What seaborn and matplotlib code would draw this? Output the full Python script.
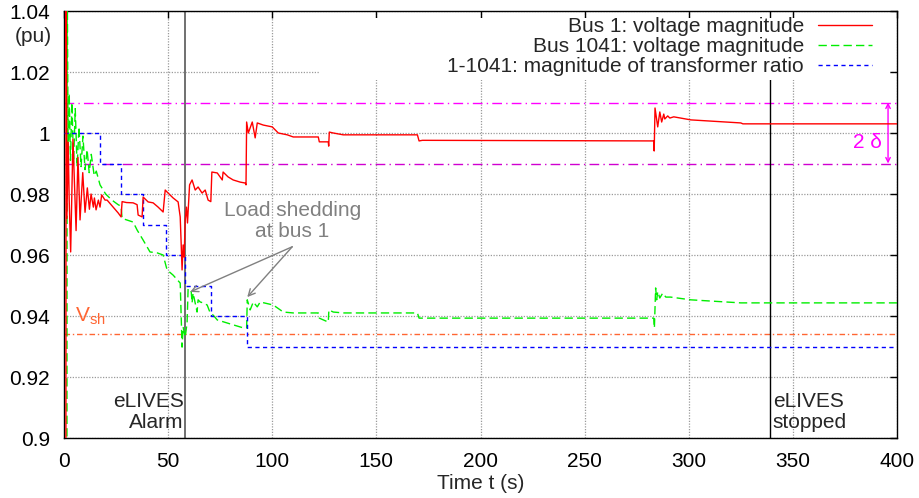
import matplotlib
matplotlib.use("Agg")
import matplotlib.pyplot as plt
import pandas as pd
import seaborn as sns
from matplotlib.patches import Rectangle
from matplotlib.ticker import FuncFormatter, MultipleLocator

# ---- simulation traces (time in s, magnitude in pu) ----
bus1_points = [
    (0.0, 0.86), (0.9, 0.86), (1.0, 1.06), (1.4, 0.972), (2.0, 0.997), (2.5, 0.978),
    (3.2, 0.961), (4.3, 0.998), (5.8, 0.968), (6.7, 0.992), (7.7, 0.9715),
    (9.0, 0.987), (10.1, 0.974), (11.2, 0.982), (12.2, 0.975), (13.0, 0.980),
    (14.1, 0.9757), (14.6, 0.9787), (15.4, 0.9748), (16.5, 0.978), (17.3, 0.9757),
    (18.1, 0.9797), (19.7, 0.978), (20.7, 0.978), (23.6, 0.9757), (26.0, 0.9738),
    (27.4, 0.9725), (27.9, 0.9775), (30.0, 0.9772), (33.2, 0.9771), (35.1, 0.9765),
    (35.6, 0.9731), (37.5, 0.9725), (38.0, 0.979), (40.4, 0.9774), (42.8, 0.9771),
    (45.2, 0.9757), (47.6, 0.9741), (48.6, 0.9813), (50.0, 0.9803), (52.4, 0.9787),
    (54.8, 0.9774), (55.8, 0.9725), (56.25, 0.964), (56.7, 0.9551), (57.2, 0.9633),
    (57.7, 0.9593), (58.2, 0.9715), (58.8, 0.9757), (59.3, 0.9705), (60.3, 0.983),
    (61.5, 0.9846), (63.0, 0.9813), (64.4, 0.9823), (66.3, 0.9803), (67.8, 0.9813),
    (69.2, 0.978), (70.5, 0.9775), (71.0, 0.9872), (73.6, 0.9869), (76.0, 0.9846),
    (76.4, 0.9872), (78.8, 0.9856), (81.25, 0.9846), (84.6, 0.9839), (87.0, 0.9836),
    (87.4, 0.983), (87.7, 1.0036), (88.5, 1.0), (90.4, 1.0036), (91.8, 0.9984),
    (92.8, 1.0033), (95.7, 1.0026), (100.0, 1.002), (102.9, 1.0), (107.2, 0.9994),
    (110.1, 0.9987), (122.1, 0.9987), (122.6, 0.9971), (126.9, 0.9971), (127.1, 0.9957),
    (127.4, 1.0003), (129.3, 1.0), (134.1, 0.9994), (169.7, 0.9994), (170.5, 0.9974),
    (172.1, 0.9976), (283.2, 0.9974), (283.4, 0.9941), (283.8, 1.0082), (285.1, 1.002),
    (286.1, 1.0069), (287.0, 1.0036), (288.0, 1.0062), (288.5, 1.0046), (289.9, 1.0056),
    (290.9, 1.0049), (292.8, 1.0053), (301.0, 1.0043), (325.0, 1.0033), (326.0, 1.003),
    (400.0, 1.003),
]

bus1041_points = [
    (0.0, 0.86), (1.4, 0.86), (1.5, 1.06), (2.0, 0.990), (2.5, 1.013), (3.1, 0.991),
    (3.8, 1.010), (4.6, 0.990), (5.4, 1.008), (6.3, 0.989), (7.2, 1.002),
    (8.2, 0.989), (9.1, 0.999), (10.1, 0.988), (11.1, 0.9945), (12.1, 0.987),
    (13.1, 0.993), (14.5, 0.986), (15.5, 0.9875), (17.3, 0.983), (20.0, 0.980),
    (23.0, 0.978), (26.0, 0.9765), (27.4, 0.976), (27.9, 0.972), (33.2, 0.9708),
    (35.1, 0.9682), (38.0, 0.9649), (41.3, 0.961), (44.7, 0.9607), (47.6, 0.960),
    (49.5, 0.9551), (52.4, 0.9534), (55.8, 0.9508), (56.7, 0.9298), (57.2, 0.9364),
    (58.2, 0.9331), (59.1, 0.9377), (59.6, 0.949), (61.1, 0.9479), (61.5, 0.9443),
    (62.0, 0.9475), (63.9, 0.9413), (64.4, 0.9453), (65.4, 0.9446), (66.8, 0.9443),
    (68.75, 0.9436), (70.2, 0.941), (71.6, 0.9403), (73.6, 0.9387), (78.4, 0.9377),
    (81.25, 0.9371), (86.1, 0.9361), (87.7, 0.9361), (88.0, 0.9453), (89.4, 0.942),
    (90.9, 0.9446), (92.8, 0.943), (94.2, 0.9446), (100.5, 0.9436), (105.3, 0.9413),
    (110.1, 0.941), (122.1, 0.941), (122.6, 0.9393), (126.9, 0.938), (127.2, 0.942),
    (129.3, 0.9413), (134.1, 0.941), (169.7, 0.941), (170.5, 0.9393), (283.2, 0.9393),
    (283.5, 0.9361), (284.1, 0.9492), (284.6, 0.9453), (285.1, 0.948), (286.1, 0.9459),
    (287.5, 0.9475), (289.0, 0.9462), (291.3, 0.9462), (301.0, 0.9453), (325.0, 0.9443),
    (400.0, 0.9443),
]

# LTC tap steps of transformer 1-1041
ratio_t = [0.0, 17.3, 27.6, 38.0, 49.0, 58.2, 70.7, 88.0, 400.0]
ratio_v = [1.00, 0.99, 0.98, 0.97, 0.96, 0.95, 0.94, 0.93, 0.93]

# deadband, shedding threshold and event times
band_upper = 1.01
band_lower = 0.99
v_shed = 0.934
t_alarm = 58.2
t_stop = 339.0

series_labels = [
    "Bus 1: voltage magnitude",
    "Bus 1041: voltage magnitude",
    "1-1041: magnitude of transformer ratio",
]

bus1_t, bus1_v = map(list, zip(*bus1_points))
bus1041_t, bus1041_v = map(list, zip(*bus1041_points))

df_bus1 = pd.DataFrame({"t": bus1_t, "v": bus1_v})
df_bus1041 = pd.DataFrame({"t": bus1041_t, "v": bus1041_v})
df_ratio = pd.DataFrame({"t": ratio_t, "v": ratio_v})

sns.set_style("white")
plt.rcParams["font.family"] = ["Liberation Sans", "DejaVu Sans"]
plt.rcParams["mathtext.fontset"] = "custom"
plt.rcParams["mathtext.rm"] = "Liberation Sans"
FS = 15

fig = plt.figure(figsize=(9.2, 4.98), dpi=100)
ax = fig.add_axes([64 / 920, 60 / 498, 833 / 920, 427 / 498])

# reference levels
ax.axhline(band_upper, color="#ff00ff", lw=1.0, ls=(0, (7, 3, 1, 3)), zorder=2)
ax.axhline(band_lower, color="#d000d0", lw=1.0, ls=(0, (7, 3, 1, 3)), zorder=2)
ax.axhline(v_shed, color="#ff6633", lw=1.0, ls=(0, (4, 2, 1, 2)), zorder=2)
ax.axvline(t_alarm, color="#707070", lw=1.4, zorder=2)
ax.axvline(t_stop, color="black", lw=1.0, zorder=2)

sns.lineplot(data=df_bus1, x="t", y="v", ax=ax, sort=False, estimator=None,
             color="#ff0000", lw=1.0, label=series_labels[0], zorder=4)
sns.lineplot(data=df_bus1041, x="t", y="v", ax=ax, sort=False, estimator=None,
             color="#00ee00", lw=1.0, linestyle=(0, (6, 3)),
             label=series_labels[1], zorder=3)
sns.lineplot(data=df_ratio, x="t", y="v", ax=ax, sort=False, estimator=None,
             color="#0000ff", lw=1.0, linestyle=(0, (3, 2.5)),
             drawstyle="steps-post", label=series_labels[2], zorder=3)

ax.set_xlim(0, 400)
ax.set_ylim(0.9, 1.04)
ax.xaxis.set_major_locator(MultipleLocator(50))
ax.yaxis.set_major_locator(MultipleLocator(0.02))
ax.yaxis.set_major_formatter(FuncFormatter(lambda v, p: f"{v:g}"))
ax.tick_params(direction="in", length=5, width=1, top=True, right=True,
               labelsize=FS, pad=10, colors="black")
ax.set_axisbelow(True)
ax.grid(True, color="#9a9a9a", lw=0.9, ls=(0, (1, 1.2)))
for sp in ax.spines.values():
    sp.set_color("black")
    sp.set_linewidth(1.0)

ax.set_xlabel("Time t (s)", fontsize=FS, labelpad=2)
ax.set_ylabel("")
fig.text(52 / 920, 1 - 36 / 498, "(pu)", fontsize=FS, ha="right", va="center")

# key area
ax.add_patch(Rectangle((0.307, 0.838), 0.685, 0.146, transform=ax.transAxes,
                       facecolor="white", edgecolor="none", zorder=2.5))
leg = ax.legend(loc="upper right", bbox_to_anchor=(0.975, 0.995), markerfirst=False,
                frameon=False, fontsize=FS, handlelength=2.6, handletextpad=0.67,
                labelspacing=0.05, borderpad=0.2, borderaxespad=0)
leg.set_zorder(6)

# annotations
ax.text(5.3, 0.938, r"$\mathregular{V_{sh}}$", color="#ff6633", fontsize=FS,
        ha="left", va="baseline")
ax.text(392.8, 0.997, "2 δ", color="#ff00ff", fontsize=FS, ha="right", va="center")
ax.annotate("", xy=(395.7, band_upper), xytext=(395.7, band_lower),
            arrowprops=dict(arrowstyle="<->", color="#ff00ff", lw=1.0,
                            shrinkA=0, shrinkB=0, mutation_scale=8))

ax.text(109.6, 0.9712, "Load shedding\nat bus 1", color="#808080", fontsize=FS,
        ha="center", va="center", multialignment="center", linespacing=1.12)
for head in [(60.6, 0.9479), (88.0, 0.9462)]:
    ax.annotate("", xy=head, xytext=(109.6, 0.9627),
                arrowprops=dict(arrowstyle="->", color="#808080", lw=1.0,
                                shrinkA=0, shrinkB=0, mutation_scale=12))

ax.text(t_alarm - 0.8, 0.9085, "eLIVES\nAlarm", fontsize=FS, ha="right",
        va="center", multialignment="right", linespacing=1.1)
ax.text(t_stop + 1.4, 0.9085, "eLIVES\nstopped", fontsize=FS, ha="left",
        va="center", multialignment="left", linespacing=1.1)

fig.savefig("out.png", dpi=100)
